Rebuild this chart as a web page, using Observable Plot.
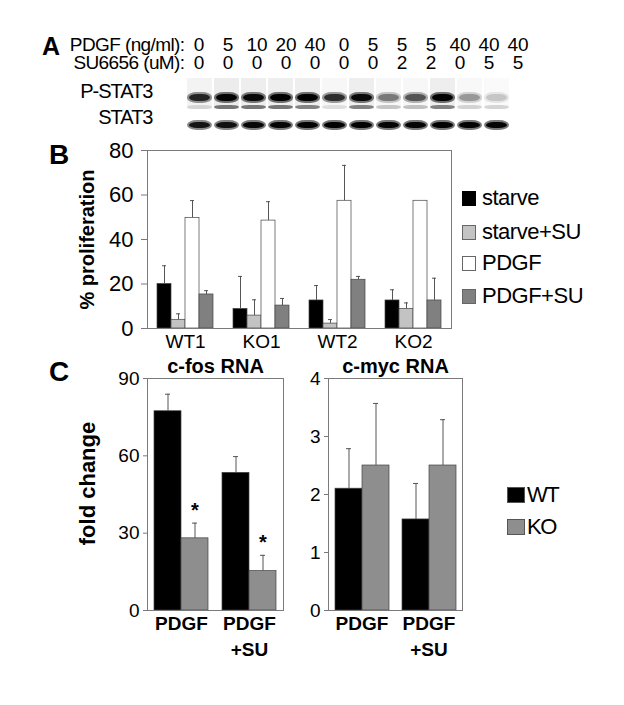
<!DOCTYPE html>
<html><head><meta charset="utf-8">
<script src="https://cdn.jsdelivr.net/npm/d3@7"></script>
<script src="https://cdn.jsdelivr.net/npm/@observablehq/plot@0.6"></script>
<style>
html,body{margin:0;padding:0;background:#fff;}
#fig{position:relative;width:624px;height:705px;overflow:hidden;background:#fff;font-family:"Liberation Sans",Arial,sans-serif;color:#000;}
#fig svg{position:absolute;overflow:visible;}
.panel{position:absolute;font-weight:bold;line-height:1;font-family:"Liberation Sans",Arial,sans-serif;}
.leg{position:absolute;display:flex;align-items:center;height:20px;white-space:nowrap;font-family:"Liberation Sans",Arial,sans-serif;font-size:22px;line-height:1;}
.sw{display:inline-block;box-sizing:border-box;margin-right:6px;}
</style></head><body><div id="fig"></div><script>
// ---------- Panel A data ----------
const lanes = [1,2,3,4,5,6,7,8,9,10,11,12];
const pdgfDose = ["0","5","10","20","40","0","5","5","5","40","40","40"];
const suDose   = ["0","0","0","0","0","0","0","2","2","0","5","5"];
const doseRowLabels = ["PDGF (ng/ml):","SU6656 (uM):"];
const blotRows = ["P-STAT3","STAT3"];
const pstat3Upper = [0.75,0.97,0.92,0.97,0.98,0.7,0.92,0.38,0.52,0.98,0.28,0.14];
const pstat3Lower = [0.12,0.5,0.5,0.5,0.45,0.1,0.45,0.2,0.22,0.45,0.15,0.15];
const stat3Total  = [0.85,0.88,0.94,0.96,0.98,0.98,0.98,0.96,0.96,0.98,0.98,0.96];
const laneSmear   = [0.08,0.14,0.12,0.12,0.12,0.06,0.12,0.06,0.06,0.12,0.05,0.04];

// ---------- Panel B data ----------
const cellLines = ["WT1","KO1","WT2","KO2"];
const treatments = ["starve","starve+SU","PDGF","PDGF+SU"];
const treatColors = ["#000000","#c3c3c3","#ffffff","#808080"];
const starve      = [20.0, 8.8, 12.6, 12.6];
const starveErr   = [8.2, 14.6, 6.7, 4.8];
const starveSU    = [3.9, 5.8, 2.2, 8.8];
const starveSUErr = [2.7, 7.1, 1.8, 2.7];
const pdgf        = [49.7, 48.5, 57.4, 57.4];
const pdgfErr     = [7.8, 8.5, 15.9, 0];
const pdgfSU      = [15.3, 10.3, 21.9, 12.6];
const pdgfSUErr   = [1.7, 3.2, 1.5, 10.0];
const bTicks = [0,20,40,60,80];

// ---------- Panel C data ----------
const cGroups = ["PDGF","PDGF+SU"];
const genotypes = ["WT","KO"];
const genoColors = ["#000000","#8e8e8e"];
const fosWT = [77.3, 53.4], fosWTErr = [6.6, 6.3];
const fosKO = [28.0, 15.3], fosKOErr = [5.9, 6.1];
const fosKOSig = ["*","*"];
const mycWT = [2.10, 1.57], mycWTErr = [0.69, 0.62];
const mycKO = [2.50, 2.50], mycKOErr = [1.07, 0.79];
const fosTicks = [0,30,60,90];
const mycTicks = [0,1,2,3,4];

const SANS = "'Liberation Sans',Arial,sans-serif";
const fig = document.getElementById("fig");

function place(svg, left, top) {
  svg.style.left = left + "px";
  svg.style.top = top + "px";
  fig.appendChild(svg);
  return svg;
}
function div(cls, html, css) {
  const d = document.createElement("div");
  d.className = cls; d.innerHTML = html;
  Object.assign(d.style, css);
  fig.appendChild(d);
  return d;
}

// ---------- Panel A: dose header ----------
const headerData = lanes.flatMap((l,i)=>[
  {lane:l,row:doseRowLabels[0],dose:pdgfDose[i]},
  {lane:l,row:doseRowLabels[1],dose:suDose[i]}
]);
place(Plot.plot({
  width: 624, height: 46, marginLeft: 180, marginRight: 89, marginTop: 5, marginBottom: 5,
  style: {fontFamily: SANS, background: "transparent", color: "#000", overflow: "visible"},
  x: {type: "band", domain: lanes, padding: 0, axis: null},
  y: {type: "band", domain: doseRowLabels, padding: 0, axis: null},
  marks: [
    Plot.text(headerData, {x: "lane", y: "row", text: "dose", fontSize: 19, fill: "#000"}),
    Plot.text(doseRowLabels, {y: d=>d, text: d=>d, frameAnchor: "left", textAnchor: "end", dx: 4, fontSize: 19, fill: "#000"})
  ]
}), 0, 30);
fig.lastChild.querySelectorAll('text[text-anchor="end"], g[text-anchor="end"] text').forEach(t=>t.setAttribute("letter-spacing","-0.6"));

// ---------- Panel A: blot ----------
const upperData = lanes.map((l,i)=>({lane:l,row:"P-STAT3",i:pstat3Upper[i]}));
const lowerData = lanes.map((l,i)=>({lane:l,row:"P-STAT3",i:pstat3Lower[i]}));
const totalData = lanes.map((l,i)=>({lane:l,row:"STAT3",i:stat3Total[i]}));
const smearData = lanes.map((l,i)=>({lane:l,row:"P-STAT3",i:laneSmear[i]}));
const blot = Plot.plot({
  width: 624, height: 66, marginLeft: 180, marginRight: 108, marginTop: 14, marginBottom: 0,
  style: {fontFamily: SANS, background: "transparent", color: "#000", overflow: "visible"},
  x: {domain: lanes, padding: 0.06, axis: null},
  y: {domain: blotRows, padding: 0, axis: null},
  opacity: {domain: [0,1], range: [0,1]},
  marks: [
    Plot.cell(smearData, {x: "lane", y: "row", fill: "#777", fillOpacity: "i", insetTop: -8, insetBottom: 3}),
    // halo + core for each band
    Plot.cell(upperData, {x: "lane", y: "row", fill: "#000", fillOpacity: d=>d.i*0.55, insetTop: 6, insetBottom: 9, rx: 10, ry: 5}),
    Plot.cell(upperData, {x: "lane", y: "row", fill: "#000", fillOpacity: "i", insetTop: 8, insetBottom: 11, insetLeft: 2, insetRight: 2, rx: 8, ry: 3.5}),
    Plot.cell(lowerData, {x: "lane", y: "row", fill: "#000", fillOpacity: "i", insetTop: 19, insetBottom: 3, rx: 8, ry: 2.5}),
    Plot.cell(totalData, {x: "lane", y: "row", fill: "#000", fillOpacity: d=>d.i*0.55, insetTop: 8, insetBottom: 8, rx: 10, ry: 5}),
    Plot.cell(totalData, {x: "lane", y: "row", fill: "#000", fillOpacity: "i", insetTop: 10, insetBottom: 10, insetLeft: 2, insetRight: 2, rx: 8, ry: 3}),
    Plot.text(blotRows, {y: d=>d, text: d=>d, frameAnchor: "left", textAnchor: "end", dx: -28, dy: -8, fontSize: 20, fill: "#000"})
  ]
});
(function addBlur(svg){
  const ns = "http://www.w3.org/2000/svg";
  const defs = document.createElementNS(ns, "defs");
  const f = document.createElementNS(ns, "filter");
  f.setAttribute("id", "blotblur"); f.setAttribute("x","-20%"); f.setAttribute("y","-50%");
  f.setAttribute("width","140%"); f.setAttribute("height","200%");
  const g = document.createElementNS(ns, "feGaussianBlur");
  g.setAttribute("stdDeviation", "0.7");
  f.appendChild(g); defs.appendChild(f); svg.insertBefore(defs, svg.firstChild);
  svg.querySelectorAll('g[aria-label="cell"]').forEach(e=>e.setAttribute("filter","url(#blotblur)"));
  svg.querySelectorAll('g[aria-label="text"] text').forEach(t=>t.setAttribute("letter-spacing","-1"));
})(blot);
place(blot, 0, 72);

// ---------- Panel B ----------
const bMeans = [starve, starveSU, pdgf, pdgfSU];
const bErrs = [starveErr, starveSUErr, pdgfErr, pdgfSUErr];
const bData = cellLines.flatMap((g,i)=>treatments.map((t,j)=>({group:g,series:t,value:bMeans[j][i],err:bErrs[j][i]})));
place(Plot.plot({
  width: 460, height: 228, marginLeft: 147, marginRight: 9, marginTop: 20, marginBottom: 30,
  style: {fontFamily: SANS, background: "transparent", color: "#000", overflow: "visible"},
  fx: {domain: cellLines, padding: 0, label: null},
  x: {domain: treatments, paddingInner: 0, paddingOuter: 10/14, axis: null},
  y: {domain: [0,80], label: null},
  color: {domain: treatments, range: treatColors},
  marks: [
    Plot.barY(bData, {fx: "group", x: "series", y: "value", fill: "series", stroke: "#444", strokeWidth: 0.7}),
    Plot.ruleX(bData.filter(d=>d.err>0), {fx: "group", x: "series", y1: "value", y2: d=>d.value+d.err, stroke: "#555", strokeWidth: 1}),
    Plot.tickY(bData.filter(d=>d.err>0), {fx: "group", x: "series", y: d=>d.value+d.err, stroke: "#555", strokeWidth: 1, insetLeft: 5, insetRight: 5}),
    Plot.frame({facet: "super", stroke: "#7a7a7a"}),
    Plot.axisY({ticks: bTicks, tickSize: 6, tickPadding: 8, fontSize: 22, label: null, stroke: "#7a7a7a"}),
    Plot.axisFx({anchor: "bottom", tickSize: 0, tickPadding: 6, fontSize: 19, label: null}),
    Plot.text(["% proliferation"], {facet: "super", frameAnchor: "left", textAnchor: "middle", lineAnchor: "middle", dx: -60, rotate: -90, fontWeight: "bold", fontSize: 20, fill: "#000"})
  ]
}), 0, 130);

// Legend B
const legTops = [198, 232, 263, 296];
treatments.forEach((t,i)=>{
  const border = t === "starve" ? "#000" : "#666";
  div("leg", `<span class="sw" style="width:14px;height:15px;background:${treatColors[i]};border:1px solid ${border}"></span><span style="letter-spacing:-0.5px">${t}</span>`, {left: "462px", top: (legTops[i]-10)+"px"});
});

// ---------- Panel C ----------
function cChart(wt, wtErr, ko, koErr, sig, domain, ticks, title, ylabel, left, width, marginLeft) {
  const data = cGroups.flatMap((g,i)=>[
    {group:g,series:"WT",value:wt[i],err:wtErr[i],sig:""},
    {group:g,series:"KO",value:ko[i],err:koErr[i],sig:sig ? sig[i] : ""}
  ]);
  const marks = [
    Plot.barY(data, {fx: "group", x: "series", y: "value", fill: "series", stroke: "#444", strokeWidth: 0.7}),
    Plot.ruleX(data, {fx: "group", x: "series", y1: "value", y2: d=>d.value+d.err, stroke: "#555", strokeWidth: 1}),
    Plot.tickY(data, {fx: "group", x: "series", y: d=>d.value+d.err, stroke: "#555", strokeWidth: 1, insetLeft: 11, insetRight: 11}),
    Plot.text(data.filter(d=>d.sig), {fx: "group", x: "series", y: d=>d.value+d.err, text: "sig", dy: -13, fontSize: 20, fontWeight: "bold", fill: "#000"}),
    Plot.frame({facet: "super", stroke: "#7a7a7a"}),
    Plot.axisY({ticks, tickSize: 4, tickPadding: 4, fontSize: 19, tickFormat: "d", label: null, stroke: "#7a7a7a"}),
    Plot.axisFx({anchor: "bottom", tickSize: 0, tickPadding: 1, fontSize: 19, fontWeight: "bold", lineHeight: 1.37, label: null, tickFormat: d=>d.replace("+","\n+")}),
    Plot.text([title], {facet: "super", frameAnchor: "top", lineAnchor: "middle", textAnchor: "middle", dy: -12, fontWeight: "bold", fontSize: 20, fill: "#000"})
  ];
  if (ylabel) marks.push(Plot.text([ylabel], {facet: "super", frameAnchor: "left", textAnchor: "middle", lineAnchor: "middle", dx: -60, dy: -11, rotate: -90, fontWeight: "bold", fontSize: 22, fill: "#000"}));
  return place(Plot.plot({
    width, height: 320, marginLeft, marginRight: 8, marginTop: 33, marginBottom: 55,
    style: {fontFamily: SANS, background: "transparent", color: "#000", overflow: "visible"},
    fx: {domain: cGroups, padding: 0, label: null},
    x: {domain: genotypes, paddingInner: 0, paddingOuter: 0.22, axis: null},
    y: {domain, label: null},
    color: {domain: genotypes, range: genoColors},
    marks
  }), left, 345);
}
cChart(fosWT, fosWTErr, fosKO, fosKOErr, fosKOSig, [0,90], fosTicks, "c-fos RNA", "fold change", 0, 291, 147);
cChart(mycWT, mycWTErr, mycKO, mycKOErr, null, [0,4], mycTicks, "c-myc RNA", null, 290, 180, 38);

// Legend C
const legCTops = [495, 527];
genotypes.forEach((g,i)=>{
  div("leg", `<span class="sw" style="width:18px;height:16px;background:${genoColors[i]};border:1px solid #555;margin-right:2px"></span><span style="letter-spacing:-1.5px">${g}</span>`, {left: "507px", top: (legCTops[i]-10)+"px"});
});

// Panel letters
div("panel", "A", {left: "42px", top: "34px", fontSize: "25px"});
div("panel", "B", {left: "49px", top: "141px", fontSize: "28px"});
div("panel", "C", {left: "49px", top: "358px", fontSize: "28px"});
</script></body></html>
